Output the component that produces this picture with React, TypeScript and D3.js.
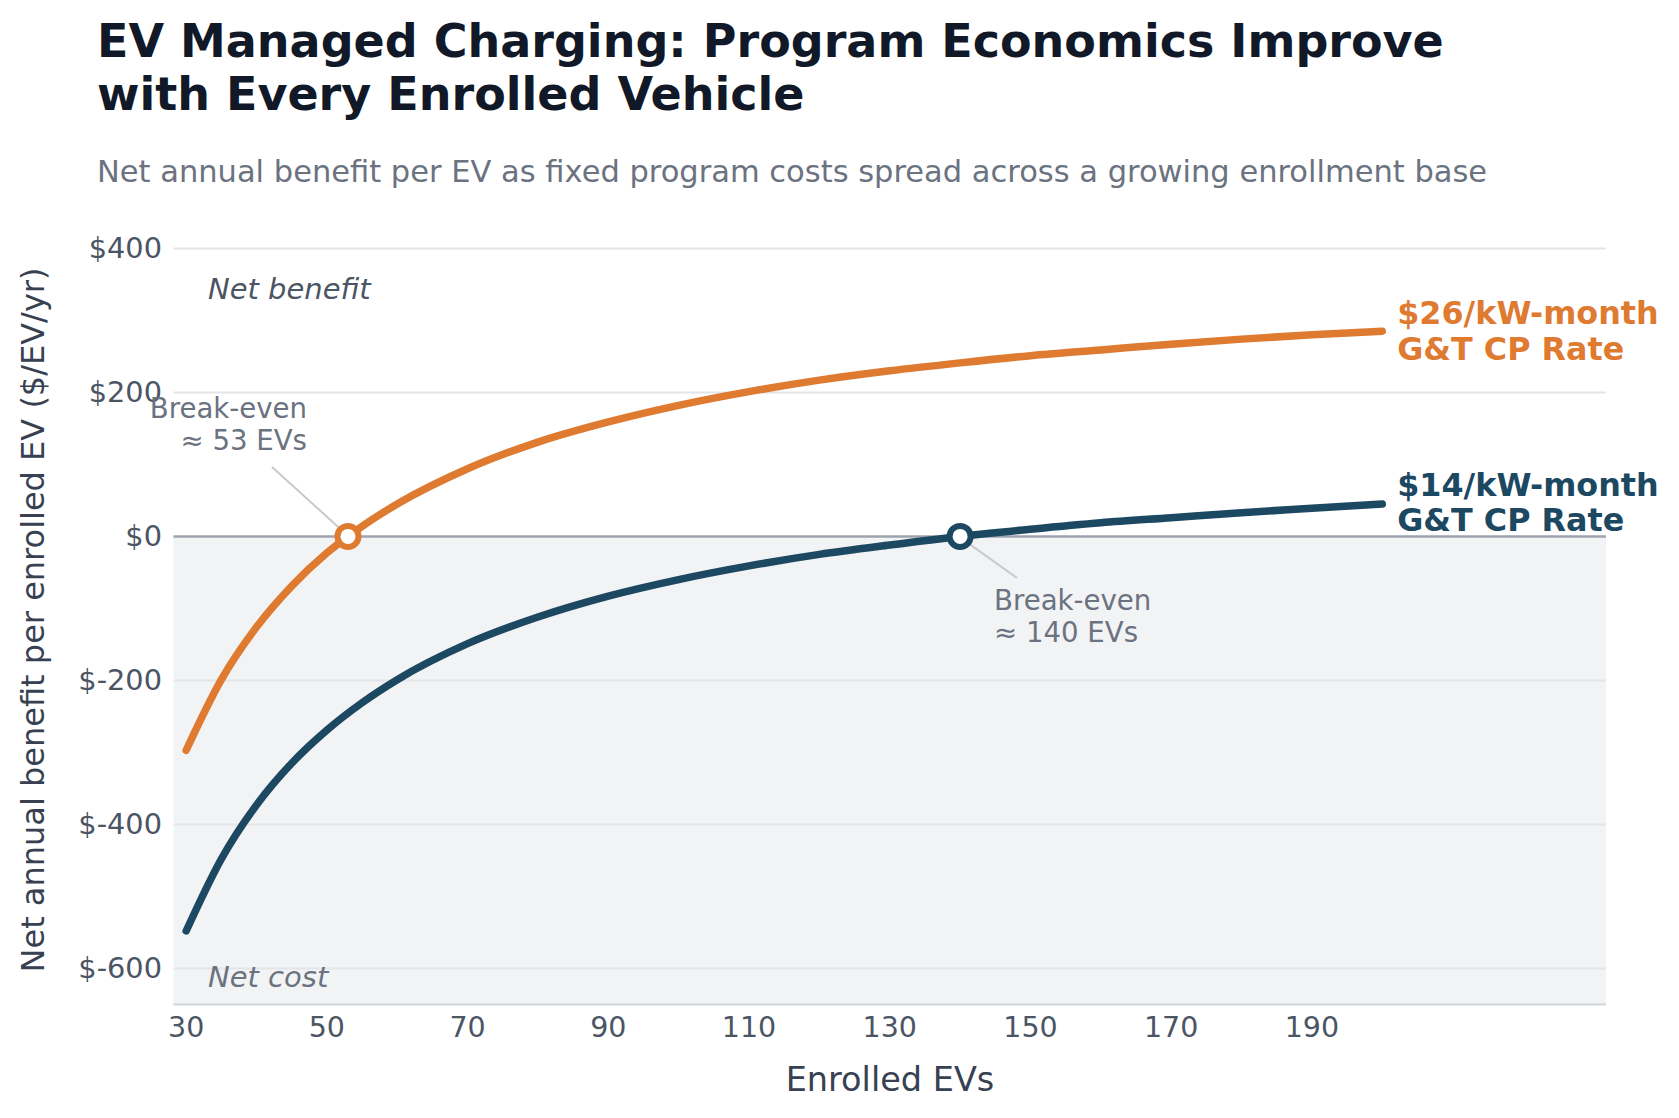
import React from 'react';
import { scaleLinear, line, curveMonotoneX } from 'd3';

const WIDTH = 1679;
const HEIGHT = 1118;
const FONT = '"DejaVu Sans", sans-serif';

// Enrolled EV counts and net annual benefit per EV ($/EV/yr) for each CP rate
const enrolled = [30, 35, 40, 45, 50, 55, 60, 70, 80, 90, 100, 110, 120, 130, 140, 150, 160, 170, 180, 190, 200];
const benefitRate26 = [-297, -199, -126, -69, -23, 14, 45, 94, 131, 159, 182, 201, 217, 230, 241, 251, 259, 267, 274, 280, 285];
const benefitRate14 = [-548, -448, -373, -315, -269, -231, -199, -149, -112, -83, -60, -41, -25, -12, 0, 10, 19, 26, 33, 39, 45];

const breakEven26 = 53;
const breakEven14 = 140;

const xTicks = [30, 50, 70, 90, 110, 130, 150, 170, 190];
const yTicks = [400, 200, 0, -200, -400, -600];

const ORANGE = '#df7a31';
const NAVY = '#1c4862';

const plot = { left: 173.5, right: 1606, top: 248.4, bottom: 1004.4 };

export default function App() {
  const x = scaleLinear().domain([28.2, 231.8]).range([plot.left, plot.right]);
  const y = scaleLinear().domain([-650, 400]).range([plot.bottom, plot.top]);

  const pts26 = enrolled.map((n, i) => [n, benefitRate26[i]] as [number, number]);
  const pts14 = enrolled.map((n, i) => [n, benefitRate14[i]] as [number, number]);

  const path = line<[number, number]>()
    .x((d) => x(d[0]))
    .y((d) => y(d[1]))
    .curve(curveMonotoneX);

  const last = enrolled.length - 1;
  const end26 = { x: x(enrolled[last]), y: y(benefitRate26[last]) };
  const end14 = { x: x(enrolled[last]), y: y(benefitRate14[last]) };

  return (
    <svg
      width={WIDTH}
      height={HEIGHT}
      style={{ position: 'absolute', left: 0, top: 0, background: '#fff' }}
      fontFamily={FONT}
    >
      {/* title and subtitle */}
      <text x={97} y={57} fontSize={46} fontWeight="bold" fill="#111827">
        EV Managed Charging: Program Economics Improve
      </text>
      <text x={97} y={110} fontSize={46} fontWeight="bold" fill="#111827">
        with Every Enrolled Vehicle
      </text>
      <text x={97} y={182} fontSize={30.5} fill="#6b7280">
        Net annual benefit per EV as fixed program costs spread across a growing enrollment base
      </text>

      {/* net cost shading below zero */}
      <rect
        x={plot.left}
        y={y(0)}
        width={plot.right - plot.left}
        height={plot.bottom - y(0)}
        fill="#f2f3f5"
      />

      {/* gridlines */}
      {yTicks.filter((t) => t !== 0).map((t) => (
        <line key={t} x1={plot.left} x2={plot.right} y1={y(t)} y2={y(t)} stroke="#e3e5e8" strokeWidth={2} />
      ))}
      <line x1={plot.left} x2={plot.right} y1={y(0)} y2={y(0)} stroke="#9ca3af" strokeWidth={2.5} />
      <line x1={plot.left} x2={plot.right} y1={plot.bottom} y2={plot.bottom} stroke="#d1d5db" strokeWidth={2} />

      {/* y tick labels */}
      {yTicks.map((t) => (
        <text key={t} x={162} y={y(t)} dy="0.35em" textAnchor="end" fontSize={28.8} fill="#4b5563">
          {`$${t}`}
        </text>
      ))}

      {/* x tick labels */}
      {xTicks.map((t) => (
        <text key={t} x={x(t)} y={1037} textAnchor="middle" fontSize={28.5} fill="#4b5563">
          {t}
        </text>
      ))}

      {/* axis titles */}
      <text x={890} y={1091} textAnchor="middle" fontSize={33.5} fill="#374151">
        Enrolled EVs
      </text>
      <text
        transform={`translate(44, 620) rotate(-90)`}
        textAnchor="middle"
        fontSize={32}
        fill="#374151"
      >
        Net annual benefit per enrolled EV ($/EV/yr)
      </text>

      {/* region labels */}
      <text x={208} y={299} fontSize={29} fontStyle="italic" fill="#4b5563">
        Net benefit
      </text>
      <text x={208} y={987} fontSize={29} fontStyle="italic" fill="#6b7280">
        Net cost
      </text>

      {/* curves */}
      <path d={path(pts14) || ''} fill="none" stroke={NAVY} strokeWidth={7.5} strokeLinecap="round" />
      <path d={path(pts26) || ''} fill="none" stroke={ORANGE} strokeWidth={7.5} strokeLinecap="round" />

      {/* break-even annotations */}
      <line x1={272} y1={467} x2={x(breakEven26) - 6} y2={y(0) - 6} stroke="#c6c9ce" strokeWidth={2} />
      <text textAnchor="end" fontSize={27.6} fill="#6b7280">
        <tspan x={307} y={418}>Break-even</tspan>
        <tspan x={307} y={450}>≈ {breakEven26} EVs</tspan>
      </text>

      <line x1={x(breakEven14) + 7} y1={y(0) + 6} x2={1017} y2={578} stroke="#c6c9ce" strokeWidth={2} />
      <text fontSize={27.6} fill="#6b7280">
        <tspan x={994} y={610}>Break-even</tspan>
        <tspan x={994} y={642}>≈ {breakEven14} EVs</tspan>
      </text>

      <circle cx={x(breakEven26)} cy={y(0)} r={10.5} fill="#fff" stroke={ORANGE} strokeWidth={6} />
      <circle cx={x(breakEven14)} cy={y(0)} r={10.5} fill="#fff" stroke={NAVY} strokeWidth={6} />

      {/* series labels at line ends */}
      <text fontSize={31.8} fontWeight="bold" fill={ORANGE}>
        <tspan x={end26.x + 15} y={end26.y - 7}>$26/kW-month</tspan>
        <tspan x={end26.x + 15} y={end26.y + 29}>G&amp;T CP Rate</tspan>
      </text>
      <text fontSize={31.8} fontWeight="bold" fill={NAVY}>
        <tspan x={end14.x + 15} y={end14.y - 8}>$14/kW-month</tspan>
        <tspan x={end14.x + 15} y={end14.y + 27}>G&amp;T CP Rate</tspan>
      </text>
    </svg>
  );
}
